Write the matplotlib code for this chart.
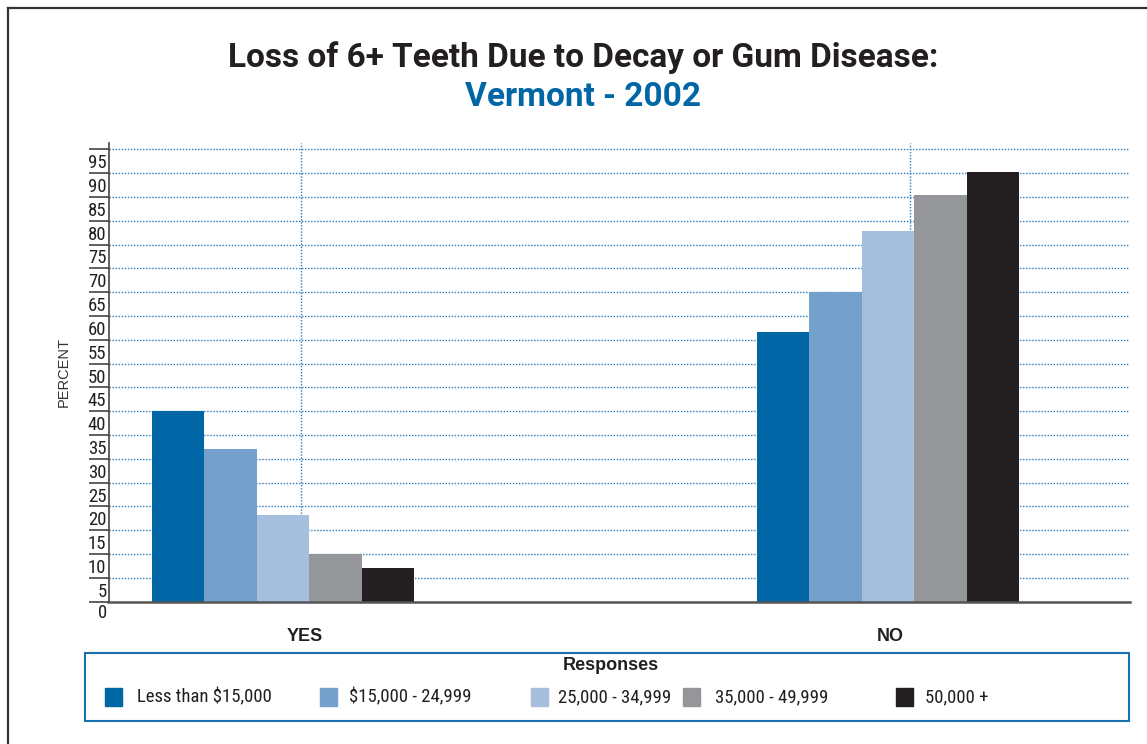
import matplotlib.pyplot as plt
from matplotlib.patches import Rectangle
from matplotlib.lines import Line2D
import numpy as np

categories = ['YES', 'NO']
series_labels = ['Less than $15,000', '$15,000 - 24,999', '25,000 - 34,999',
                 '35,000 - 49,999', '50,000 +']
values = {
    'Less than $15,000': [40.1, 56.6],
    '$15,000 - 24,999': [32.1, 65.0],
    '25,000 - 34,999': [18.2, 77.8],
    '35,000 - 49,999': [10.1, 85.4],
    '50,000 +': [7.1, 90.2],
}
colors = ['#0066a6', '#74a1cc', '#a6bfdf', '#959699', '#231f20']
ytick_values = list(range(0, 100, 5))

narrow = ['Roboto Condensed', 'DejaVu Sans']
plt.rcParams['font.family'] = ['Liberation Sans', 'DejaVu Sans']

fig = plt.figure(figsize=(11.47, 7.44), dpi=100)
W, H = 1147, 744

def fx(px):
    return px / W

def fy(py):
    return 1 - py / H

ax = fig.add_axes([fx(108.5), fy(601.7), fx(1130) - fx(108.5), fy(142.7) - fy(601.7)])

x = np.arange(len(categories))
width = 0.0866
for i, lab in enumerate(series_labels):
    ax.bar(x + (i - 2) * width, values[lab], width, color=colors[i], zorder=3)

ax.set_xlim(-0.2884, 1.400)
ax.set_ylim(0, 96.4)

# horizontal dotted grid
ax.set_yticks(ytick_values)
ax.set_yticklabels([])
ax.tick_params(axis='y', which='major', length=14.5, width=1.2, color='#444444', direction='out')
ax.grid(axis='y', which='major', linestyle=(0, (1, 1.2)), color='#2b7bbb', linewidth=1.0, zorder=1)

# labels sit between the grid lines
ax.set_yticks([v - 2.5 for v in ytick_values[1:]], minor=True)
ax.set_yticklabels([str(v) for v in ytick_values[1:]], minor=True)
ax.tick_params(axis='y', which='minor', length=0, pad=1.5, labelsize=13.5, labelcolor='#231f20')
for t in ax.get_yticklabels(minor=True):
    t.set_family(narrow)
ax.text(-0.0015, -2.3, '0', transform=ax.get_yaxis_transform(), ha='right', va='center',
        fontsize=13.5, color='#231f20', family=narrow, clip_on=False)

# vertical dotted lines
for v in [0.03, 1.036]:
    ax.axvline(v, linestyle=(0, (1, 1.2)), color='#2b7bbb', linewidth=1.0, zorder=1)

ax.set_xticks([0.036, 1.003])
ax.set_xticklabels(categories, fontsize=13, fontweight='bold', color='#231f20')
ax.tick_params(axis='x', length=0, pad=19)

for s in ['top', 'right']:
    ax.spines[s].set_visible(False)
ax.spines['left'].set_color('#444444')
ax.spines['left'].set_linewidth(1.2)
ax.spines['bottom'].set_color('#555555')
ax.spines['bottom'].set_linewidth(1.8)
ax.spines['bottom'].set_zorder(4)

ax.set_ylabel('PERCENT', fontsize=10.5, color='#333333', labelpad=9)

# titles
fig.text(fx(583), fy(58), 'Loss of 6+ Teeth Due to Decay or Gum Disease:', ha='center', va='center',
         fontsize=24, fontweight='bold', family=['Roboto', 'DejaVu Sans'], color='#231f20')
fig.text(fx(583), fy(97), 'Vermont - 2002', ha='center', va='center',
         fontsize=24, fontweight='bold', family=['Roboto', 'DejaVu Sans'], color='#0066a6')

# outer frame
fig.add_artist(Line2D([fx(8), fx(8)], [fy(8), 0], color='#333333', linewidth=1.6))
fig.add_artist(Line2D([fx(8), 1], [fy(8), fy(8)], color='#333333', linewidth=1.6))

# legend box
fig.add_artist(Rectangle((fx(85), fy(721)), fx(1129) - fx(85), fy(653) - fy(721),
                         fill=False, edgecolor='#1a6faf', linewidth=1.5))
fig.text(fx(611), fy(665), 'Responses', ha='center', va='center', fontsize=13,
         fontweight='bold', color='#231f20')
patch_x = [105, 320, 531, 683, 896]
text_x = [137, 349, 558, 715, 925]
for i, lab in enumerate(series_labels):
    fig.add_artist(Rectangle((fx(patch_x[i]), fy(706)), fx(17), 18 / H, color=colors[i]))
    fig.text(fx(text_x[i]), fy(697), lab, ha='left', va='center', fontsize=13.5,
             family=narrow, color='#231f20')

fig.savefig('out.png', dpi=100)
